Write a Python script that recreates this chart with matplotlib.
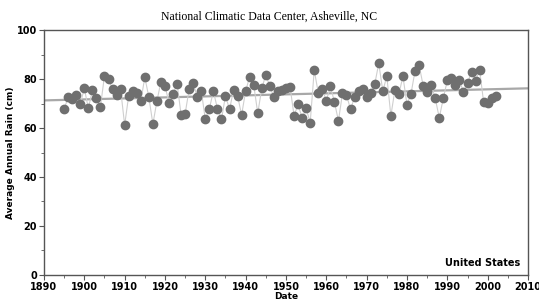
import numpy as np
import matplotlib
matplotlib.use("Agg")
import matplotlib.pyplot as plt
from matplotlib.ticker import MultipleLocator

# Annual rainfall, Asheville NC
years = list(range(1895, 2003))
rain = [67.8, 72.5, 71.8, 73.4, 69.8, 76.2, 68.0, 75.4, 72.4, 68.7,
        81.3, 79.8, 76.1, 73.6, 75.8, 61.2, 73.2, 75.1, 74.1, 71.0,
        80.7, 72.6, 61.6, 71.0, 78.9, 77.1, 70.3, 73.7, 78.1, 65.3,
        65.9, 75.9, 78.4, 72.5, 75.2, 63.5, 67.9, 75.0, 67.9, 63.5,
        73.2, 67.6, 75.5, 73.1, 65.3, 75.2, 80.8, 77.6, 66.0, 76.2,
        81.7, 77.1, 72.5, 75.2, 75.5, 76.2, 76.9, 65.0, 69.6, 64.0,
        68.0, 62.2, 83.6, 74.4, 75.9, 71.0, 77.1, 70.7, 62.9, 74.1,
        73.5, 67.6, 72.5, 75.1, 75.8, 72.5, 74.4, 77.9, 86.4, 75.1,
        81.1, 65.0, 75.5, 74.0, 81.1, 69.4, 74.0, 83.4, 85.7, 77.3,
        74.8, 77.6, 72.1, 64.2, 72.1, 79.5, 80.4, 77.6, 79.6, 74.5,
        78.5, 82.7, 79.3, 83.7, 70.5, 70.1, 72.4, 73.1]

title = "National Climatic Data Center, Asheville, NC"
region = "United States"

fig = plt.figure(figsize=(5.39, 3.05), dpi=100)
ax = fig.add_axes([0.0816, 0.0984, 0.898, 0.8032])

# linear trend across the full axis range
coef = np.polyfit(years, rain, 1)
xt = np.array([1890, 2010])
ax.plot(xt, np.polyval(coef, xt), color="#a8a8a8", lw=1.6, zorder=1)

ax.plot(years, rain, color="#cfcfcf", lw=0.8, zorder=2)
ax.plot(years, rain, "o", color="#6f6f6f", ms=6, mec="#6f6f6f", zorder=3)

ax.set_xlim(1890, 2010)
ax.set_ylim(0, 100)
ax.xaxis.set_major_locator(MultipleLocator(10))
ax.xaxis.set_minor_locator(MultipleLocator(5))
ax.yaxis.set_major_locator(MultipleLocator(20))
ax.yaxis.set_minor_locator(MultipleLocator(10))
ax.tick_params(which="both", direction="out", colors="#555555", labelcolor="black",
               labelsize=7, pad=1.5)
ax.tick_params(which="major", length=3.5)
ax.tick_params(which="minor", length=2)
for lab in ax.get_xticklabels() + ax.get_yticklabels():
    lab.set_fontweight("bold")
for s in ax.spines.values():
    s.set_color("#555555")
    s.set_linewidth(1)

ax.set_xlabel("Date", fontsize=6.5, fontweight="bold", labelpad=0)
ax.set_ylabel("Average Annual Rain (cm)", fontsize=6.5, fontweight="bold", labelpad=1)
ax.text(0.985, 0.03, region, transform=ax.transAxes, ha="right", va="bottom",
        fontsize=7, fontweight="bold")
fig.text(0.5, 0.945, title, ha="center", va="center", fontsize=8.5,
         family="Liberation Serif")

fig.savefig("out.png", dpi=100)
